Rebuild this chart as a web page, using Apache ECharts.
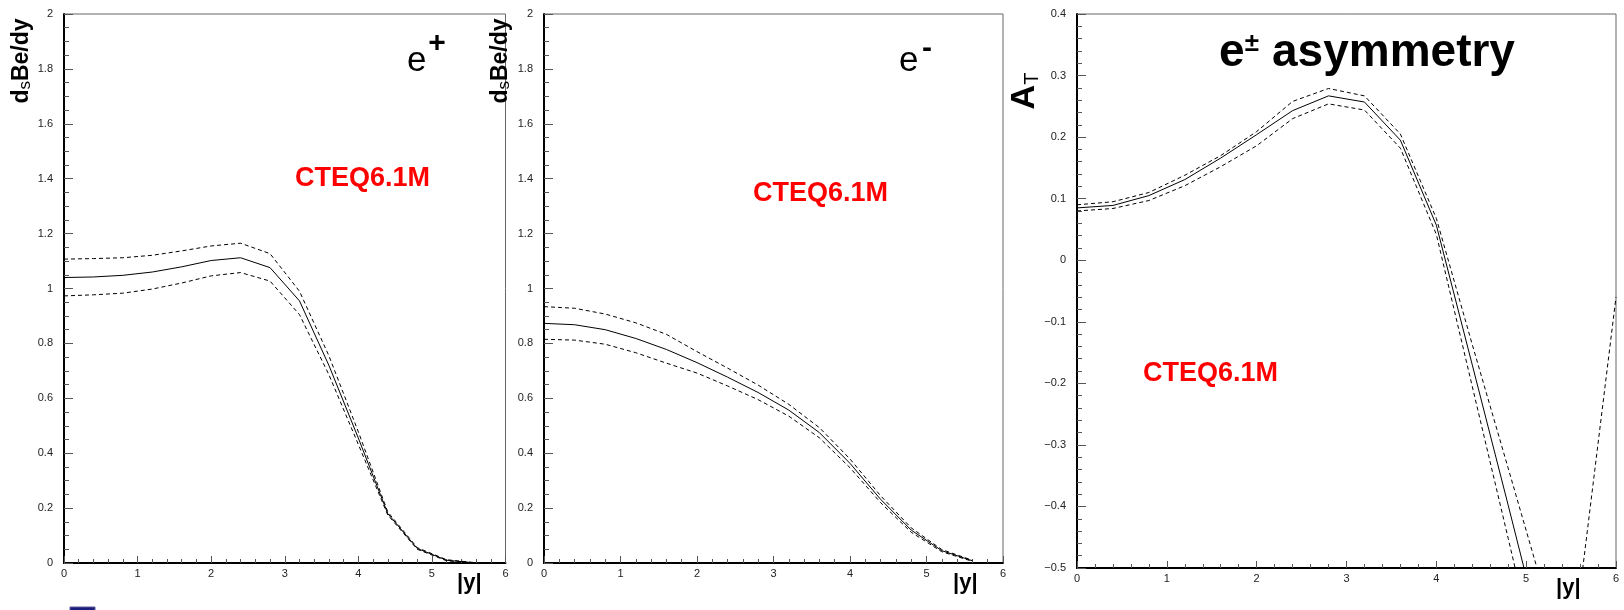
<!DOCTYPE html>
<html>
<head>
<meta charset="utf-8">
<script src="https://cdn.jsdelivr.net/npm/echarts@6/dist/echarts.min.js"></script>
<style>
  html, body { margin: 0; padding: 0; background: #fff; }
  #chart { width: 1624px; height: 610px; }
</style>
</head>
<body>
<div id="chart"></div>
<script>
// Rapidity grid |y| shared by the cross-section curves
const rapidity = [0, 0.4, 0.8, 1.2, 1.6, 2.0, 2.4, 2.8, 3.2, 3.6, 4.0, 4.4, 4.8, 5.2, 5.6];

// e+ : dσ/dy with PDF error band
const ePlusUpper   = [1.107, 1.109, 1.112, 1.121, 1.137, 1.155, 1.165, 1.127, 0.990, 0.755, 0.478, 0.186, 0.056, 0.012, 0.001];
const ePlusCentral = [1.040, 1.042, 1.048, 1.060, 1.079, 1.102, 1.112, 1.076, 0.955, 0.720, 0.455, 0.180, 0.053, 0.010, 0.000];
const ePlusLower   = [0.973, 0.977, 0.983, 0.998, 1.020, 1.046, 1.058, 1.027, 0.905, 0.686, 0.432, 0.175, 0.050, 0.008, 0.000];

// e- : dσ/dy with PDF error band
const eMinusUpper   = [0.934, 0.928, 0.907, 0.875, 0.833, 0.770, 0.710, 0.648, 0.578, 0.493, 0.379, 0.245, 0.128, 0.049, 0.010];
const eMinusCentral = [0.873, 0.868, 0.850, 0.818, 0.778, 0.730, 0.677, 0.621, 0.557, 0.475, 0.363, 0.232, 0.120, 0.045, 0.008];
const eMinusLower   = [0.815, 0.812, 0.797, 0.766, 0.728, 0.692, 0.645, 0.595, 0.535, 0.456, 0.347, 0.220, 0.112, 0.041, 0.006];

// Lepton charge asymmetry
const asymRapidity = [0, 0.4, 0.8, 1.2, 1.6, 2.0, 2.4, 2.8, 3.2, 3.6, 4.0, 4.4, 4.8, 5.2, 5.6, 6.0];
const asymUpper   = [0.090, 0.095, 0.110, 0.138, 0.170, 0.209, 0.258, 0.279, 0.267, 0.205, 0.068, -0.137, -0.338, -0.540, -0.536, -0.060];
const asymCentral = [0.085, 0.089, 0.105, 0.131, 0.166, 0.204, 0.243, 0.267, 0.257, 0.195, 0.057, -0.170, -0.398, -0.630, null, null];
const asymLower   = [0.080, 0.084, 0.097, 0.121, 0.152, 0.186, 0.230, 0.254, 0.244, 0.182, 0.042, -0.205, -0.452, -0.700, null, null];

// Tick labels
const xTickLabels = ['0', '1', '2', '3', '4', '5', '6'];

const FONT = '"Liberation Sans", Arial, Helvetica, sans-serif';

function pairs(xs, ys) {
  return xs.map((x, i) => [x, ys[i]]);
}

function xAxisFor(gridIndex) {
  return {
    type: 'value', gridIndex, min: 0, max: 6, interval: 1,
    axisLine: { show: true, onZero: false, lineStyle: { color: '#000', width: 2 } },
    axisTick: { show: true, inside: true, length: 7, lineStyle: { color: '#555', width: 1 } },
    minorTick: { show: true, splitNumber: 5, length: 4, lineStyle: { color: '#555', width: 1 } },
    splitLine: { show: false },
    axisLabel: {
      margin: 5, fontSize: 11, color: '#222', fontFamily: FONT,
      showMinLabel: true, showMaxLabel: true,
      formatter: v => xTickLabels[Math.round(v)]
    }
  };
}

function yAxisFor(gridIndex, min, max, interval, minorSplit) {
  return {
    type: 'value', gridIndex, min, max, interval,
    axisLine: { show: true, onZero: false, lineStyle: { color: '#000', width: 2 } },
    axisTick: { show: true, inside: true, length: 9, lineStyle: { color: '#555', width: 1 } },
    minorTick: { show: true, splitNumber: minorSplit, length: 5, lineStyle: { color: '#555', width: 1 } },
    splitLine: { show: false },
    axisLabel: {
      margin: 11, fontSize: 11, color: '#222', fontFamily: FONT,
      showMinLabel: true, showMaxLabel: true,
      formatter: v => String(Math.round(v * 10) / 10).replace('-', '\u2212')
    }
  };
}

function curve(xIdx, xs, ys, dashed) {
  return {
    type: 'line', xAxisIndex: xIdx, yAxisIndex: xIdx,
    data: pairs(xs, ys),
    showSymbol: false, symbol: 'none', clip: true, silent: true,
    lineStyle: { color: '#000', width: 1, type: dashed ? [4, 3] : 'solid' }
  };
}

function label(text, x, y, font, fill, align) {
  return {
    type: 'text', x, y, silent: true, z: 100,
    style: { text, font, fill: fill || '#000', align: align || 'left', verticalAlign: 'middle' }
  };
}

function yTitle(x, y) {
  return {
    type: 'text', x, y, rotation: Math.PI / 2, silent: true, z: 100,
    style: {
      text: '{b|d}{s|s}{b|Be/dy}',
      align: 'center', verticalAlign: 'middle',
      rich: {
        b: { font: 'bold 23px ' + FONT, fill: '#000', verticalAlign: 'bottom', lineHeight: 23 },
        s: { font: '17px ' + FONT, fill: '#000', verticalAlign: 'bottom', lineHeight: 23 }
      }
    }
  };
}

const chart = echarts.init(document.getElementById('chart'), null, { renderer: 'canvas' });

chart.setOption({
  animation: false,
  backgroundColor: '#fff',
  grid: [
    { left: 64,   top: 14, width: 441.5, height: 549, show: true, borderColor: '#666', borderWidth: 1, backgroundColor: 'transparent' },
    { left: 544,  top: 14, width: 459,   height: 549, show: true, borderColor: '#666', borderWidth: 1, backgroundColor: 'transparent' },
    { left: 1077, top: 14, width: 539,   height: 554, show: true, borderColor: '#666', borderWidth: 1, backgroundColor: 'transparent' }
  ],
  xAxis: [xAxisFor(0), xAxisFor(1), xAxisFor(2)],
  yAxis: [
    yAxisFor(0, 0, 2, 0.2, 4),
    yAxisFor(1, 0, 2, 0.2, 4),
    yAxisFor(2, -0.5, 0.4, 0.1, 5)
  ],
  series: [
    curve(0, rapidity, ePlusUpper, true),
    curve(0, rapidity, ePlusCentral, false),
    curve(0, rapidity, ePlusLower, true),
    curve(1, rapidity, eMinusUpper, true),
    curve(1, rapidity, eMinusCentral, false),
    curve(1, rapidity, eMinusLower, true),
    curve(2, asymRapidity, asymUpper, true),
    curve(2, asymRapidity, asymCentral, false),
    curve(2, asymRapidity, asymLower, true)
  ],
  graphic: [
    // axis titles
    yTitle(22, 61),
    yTitle(501, 61),
    {
      type: 'text', x: 1025, y: 91, rotation: Math.PI / 2, silent: true, z: 100,
      style: {
        text: '{a|A}{s|T}', align: 'center', verticalAlign: 'middle',
        rich: {
          a: { font: 'bold 34px ' + FONT, fill: '#000', verticalAlign: 'bottom', lineHeight: 34 },
          s: { font: '20px ' + FONT, fill: '#000', verticalAlign: 'bottom', lineHeight: 28 }
        }
      }
    },
    label('|y|', 457, 583, 'bold 22px ' + FONT),
    label('|y|', 953, 583, 'bold 22px ' + FONT),
    label('|y|', 1556, 588, 'bold 22px ' + FONT),

    // panel headings
    label('e', 407, 61, '35px ' + FONT),
    label('+', 437, 44, 'bold 30px ' + FONT, '#000', 'center'),
    label('e', 899, 61, '35px ' + FONT),
    label('-', 927, 49, 'bold 30px ' + FONT, '#000', 'center'),
    label('e', 1219, 53, 'bold 46px ' + FONT),
    label('\u00b1', 1252, 44, 'bold 26px ' + FONT, '#000', 'center'),
    label('asymmetry', 1272, 53, 'bold 46px ' + FONT),

    // PDF set labels
    label('CTEQ6.1M', 295, 179, 'bold 27px ' + FONT, '#ff0000'),
    label('CTEQ6.1M', 753, 194, 'bold 27px ' + FONT, '#ff0000'),
    label('CTEQ6.1M', 1143, 374, 'bold 27px ' + FONT, '#ff0000'),

    // bullet square of the following line
    {
      type: 'rect', silent: true, z: 100,
      shape: { x: 70, y: 607, width: 25, height: 10 },
      style: { fill: '#1c1c7a', stroke: '#5a5a9a', lineWidth: 1 }
    }
  ]
});
</script>
</body>
</html>
